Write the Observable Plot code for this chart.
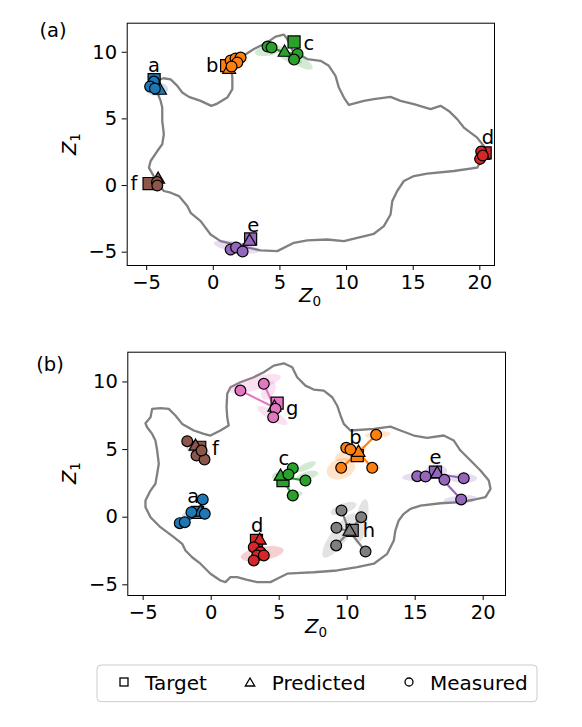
<!DOCTYPE html>
<html><head><meta charset="utf-8">
<script src="https://cdn.jsdelivr.net/npm/d3@7"></script>
<script src="https://cdn.jsdelivr.net/npm/@observablehq/plot@0.6"></script>
<style>
body{margin:0;background:#fff;font-family:"DejaVu Sans",sans-serif;}
#wrap{position:relative;width:582px;height:727px;overflow:hidden;}
.pn{position:absolute;left:0;}
</style></head><body><div id="wrap"></div>
<script>
// ---------- shared ----------
const allClusters = ["a","b","c","d","e","f","g","h"];
const clusterColors = ["#1f77b4","#ff7f0e","#2ca02c","#d62728","#9467bd","#8c564b","#e377c2","#7f7f7f"];
const xTicks = [-5,0,5,10,15,20];
const yTicks = [-5,0,5,10];
const legendLabels = ["Target","Predicted","Measured"];

// ---------- panel (a) ----------
const bndAx = [-4.33,-3.73,-3.20,-2.70,-2.33,-1.83,-0.95,-0.15,0.30,1.05,1.43,1.43,1.37,2.05,3.05,4.05,4.67,5.30,5.55,5.95,7.05,8.05,8.67,9.17,9.42,9.80,10.17,11.30,12.05,13.30,14.05,15.05,16.30,17.05,17.67,18.30,18.80,19.80,20.30,20.35,19.80,18.05,16.05,15.05,14.30,13.80,13.43,13.30,12.80,12.05,10.80,9.80,8.55,7.05,6.05,4.80,3.55,2.42,0.55,-0.20,-0.95,-1.70,-1.95,-2.58,-3.20,-3.71,-4.10,-4.83,-4.70,-4.20,-3.83,-3.71,-3.83,-3.83,-3.95,-4.20];
const bndAy = [7.86,8.05,7.97,7.48,6.98,6.65,6.35,5.98,6.15,6.60,7.23,8.11,8.61,9.61,10.24,10.74,11.17,11.32,10.99,10.11,9.49,9.36,8.98,8.23,7.35,6.60,6.05,6.35,6.48,6.65,6.35,6.11,5.73,5.98,5.60,4.98,4.35,3.59,2.97,2.37,1.34,1.09,0.89,0.71,0.34,-0.41,-1.17,-2.17,-3.05,-3.62,-3.92,-4.17,-4.05,-4.12,-4.30,-4.92,-4.87,-4.62,-4.17,-3.67,-2.67,-2.05,-1.54,-0.79,-0.54,-0.41,0.04,1.34,1.84,2.59,3.10,3.85,4.85,5.85,6.35,6.98];
const clustersA = ["a","b","c","d","e","f"];
const targetAx = [-4.44, 1.00, 6.06, 20.40, 2.80, -4.82];
const targetAy = [7.95, 9.00, 10.77, 2.45, -4.01, 0.15];
const predAx = [-4.00, 1.19, 5.35, 20.25, 2.72, -4.14];
const predAy = [7.13, 8.70, 9.98, 2.25, -4.20, 0.45];
const measAc = ["a","a","a","b","b","b","b","b","c","c","c","c","d","d","d","e","e","e","f","f"];
const measAx = [-4.46,-4.74,-4.38, 1.30,1.67,2.05,1.80,1.37, 4.07,4.37,6.32,6.06, 20.10,20.02,20.22, 1.30,1.71,2.20, -4.22,-4.20];
const measAy = [7.80,7.43,7.28, 9.38,9.53,9.60,9.23,8.93, 10.43,10.35,9.87,9.45, 2.55,2.00,2.25, -4.80,-4.65,-4.95, 0.26,0.00];
const labelAx = [-4.46,-0.08,7.17,20.60,3.00,-5.96];
const labelAy = [9.00,9.00,10.63,3.58,-3.00,0.13];
const ellAc  = ["a","b","c","c","c","d","e","f"];
const ellAcx = [-4.25,1.52,4.15,6.40,5.80,20.10,1.75,-4.30];
const ellAcy = [7.24,9.11,10.13,9.38,9.53,2.20,-4.61,0.20];
const ellArx = [0.86,1.10,1.05,1.20,0.90,0.50,1.75,0.50];
const ellAry = [0.50,0.50,0.38,0.38,0.30,0.35,0.40,0.40];
const ellAang = [0,30,10,-30,-20,60,-10,0];

// ---------- panel (b) ----------
const bndBx = [1.18,1.42,2.15,3.13,3.87,4.60,5.34,5.96,6.32,6.93,7.54,8.28,8.90,9.26,9.51,9.75,10.24,11.96,13.18,13.92,14.90,15.88,17.10,17.84,18.33,19.07,19.80,20.41,20.54,20.17,19.31,18.33,16.86,15.39,14.65,14.16,13.79,13.54,13.43,12.94,11.96,10.74,9.26,7.54,6.57,5.59,4.85,4.36,3.38,2.65,1.91,1.42,1.05,0.68,-0.05,-0.79,-1.40,-1.89,-2.13,-2.75,-3.73,-4.46,-4.83,-4.83,-4.46,-4.10,-3.97,-3.85,-3.97,-4.10,-4.34,-4.71,-4.83,-4.46,-4.34,-3.73,-3.12,-2.63,-2.13,-1.28,-0.54,-0.05,0.68,1.29,1.18,1.13];
const bndBy = [9.12,9.61,9.98,10.35,10.72,11.21,11.38,11.09,10.35,9.73,9.44,9.36,8.87,8.26,7.52,6.90,6.41,6.53,6.70,6.41,6.04,5.87,6.04,5.67,4.93,4.19,3.45,2.71,2.10,1.48,1.29,1.11,1.03,0.86,0.62,0.25,-0.24,-0.99,-1.72,-2.71,-3.44,-3.70,-3.94,-4.07,-4.12,-4.18,-4.55,-4.80,-4.80,-4.63,-4.43,-4.43,-4.80,-4.68,-4.18,-3.44,-2.96,-2.46,-1.97,-1.48,-0.74,0.00,0.74,1.23,1.97,2.47,3.21,3.95,4.93,5.67,6.16,6.65,6.95,7.39,8.01,8.06,8.01,7.52,6.90,6.41,6.16,6.04,6.41,6.78,7.39,8.13];
const clustersB = ["a","b","c","d","e","f","g","h"];
const targetBx = [-1.01, 10.74, 5.28, 3.33, 16.49, -0.84, 4.85, 10.37];
const targetBy = [0.35, 4.56, 2.71, -1.72, 3.33, 5.17, 8.43, -0.98];
const predBx = [-0.79, 10.83, 5.10, 3.57, 16.62, -1.15, 4.65, 10.17];
const predBy = [0.35, 4.78, 3.01, -1.72, 3.21, 5.23, 8.11, -1.06];
const measBc = ["a","a","a","a","a","b","b","b","b","b","c","c","c","c","d","d","d","d","d","e","e","e","e","e","f","f","f","f","g","g","g","g","h","h","h","h","h"];
const measBx = [-0.62,-0.47,-1.45,-2.31,-1.94, 9.93,12.13,9.56,11.84,10.24, 6.00,6.93,6.00,5.68, 3.13,3.63,3.38,3.87,3.13, 15.15,15.76,17.15,18.57,18.38, -1.76,-1.08,-0.49,-0.71, 2.15,3.87,4.73,4.56, 9.58,11.03,9.21,9.19,11.35];
const measBy = [1.31,0.25,0.37,-0.44,-0.37, 5.13,6.09,3.65,3.65,5.00, 3.62,2.71,1.60,3.16, -2.22,-2.59,-2.83,-2.83,-3.20, 3.03,3.01,2.76,2.88,1.31, 5.62,4.56,4.26,4.93, 9.36,9.86,8.01,7.39, 0.50,0.00,-0.78,-2.09,-2.54];
const labelBx = [-1.32,10.61,5.34,3.38,16.49,0.32,5.96,11.59];
const labelBy = [1.49,5.91,4.32,-0.61,4.43,5.06,8.01,-0.98];
const ellBc  = ["g","g","g","f","c","c","c","c","a","d","d","b","b","b","b","e","e","e","e","h","h","h"];
const ellBcx = [3.18,4.50,4.21,-1.00,7.00,7.08,6.12,5.17,-1.20,3.75,3.40,9.54,10.24,12.23,11.94,15.39,18.55,18.33,16.54,9.43,11.05,9.73];
const ellBcy = [9.88,7.52,9.36,5.00,3.74,3.08,1.68,3.00,0.40,-2.70,-1.90,3.58,4.70,6.10,3.67,3.00,2.88,1.31,3.40,-1.35,-0.30,0.64];
const ellBrx = [2.00,1.25,0.75,1.00,0.75,0.80,0.60,0.70,1.00,1.60,0.50,1.07,1.20,0.95,0.50,1.35,1.00,1.25,0.80,1.98,1.66,1.00];
const ellBry = [0.50,0.37,0.45,0.50,0.25,0.30,0.25,0.40,0.30,0.50,0.40,0.75,0.45,0.25,0.25,0.33,0.35,0.30,0.50,0.60,0.44,0.37];
const ellBang = [15,-30,60,-30,25,15,10,0,20,10,0,20,20,5,0,3,0,5,0,54,80,20];

function makePanel(o){
  const bnd = o.bx.map((x,i)=>({x, y:o.by[i]}));
  const tg = o.cl.map((c,i)=>({c, x:o.tx[i], y:o.ty[i]}));
  const pr = o.cl.map((c,i)=>({c, x:o.px[i], y:o.py[i]}));
  const ms = o.mc.map((c,i)=>({c, x:o.mx[i], y:o.my[i]}));
  const links = ms.map(m => { const p = pr.find(q=>q.c===m.c); return {c:m.c, x1:p.x, y1:p.y, x2:m.x, y2:m.y}; });
  const ell = [];
  o.ec.forEach((c,k)=>{
    const A = o.ea[k]*Math.PI/180;
    for(let j=0;j<60;j++){
      const t = j/60*2*Math.PI;
      ell.push({id:k, c,
        x:o.ecx[k] + o.erx[k]*Math.cos(t)*Math.cos(A) - o.ery[k]*Math.sin(t)*Math.sin(A),
        y:o.ecy[k] + o.erx[k]*Math.cos(t)*Math.sin(A) + o.ery[k]*Math.sin(t)*Math.cos(A)});
    }
  });
  const labels = o.cl.map((c,i)=>({c, x:o.lx[i], y:o.ly[i]}));
  return Plot.plot({
    width:582, height:330,
    marginLeft:o.ml, marginRight:o.mr, marginTop:o.mt, marginBottom:o.mb,
    x:{domain:o.xd, ticks:xTicks, tickSize:5, tickPadding:5, label:null},
    y:{domain:o.yd, ticks:yTicks, tickSize:5, tickPadding:5, label:null},
    color:{domain:allClusters, range:clusterColors},
    style:{fontFamily:"DejaVu Sans, sans-serif", fontSize:"19.5px", color:"black", background:"white", overflow:"visible"},
    marks:[
      Plot.line(bnd, {x:"x", y:"y", stroke:"#808080", strokeWidth:2.3, curve:"linear-closed"}),
      Plot.line(ell, {x:"x", y:"y", z:"id", fill:"c", fillOpacity:0.22, stroke:"none", curve:"linear-closed"}),
      Plot.link(links, {x1:"x1", y1:"y1", x2:"x2", y2:"y2", stroke:"c", strokeWidth:2.2}),
      Plot.dot(tg, {x:"x", y:"y", symbol:"square", r:6.8, fill:"c", stroke:"black", strokeWidth:1.2}),
      Plot.dot(pr, {x:"x", y:"y", symbol:"triangle", r:4.8, fill:"c", stroke:"black", strokeWidth:1.2}),
      Plot.dot(ms, {x:"x", y:"y", symbol:"circle", r:5.4, fill:"c", stroke:"black", strokeWidth:1.2}),
      Plot.text(labels, {x:"x", y:"y", text:"c", fontSize:19.5, fill:"black"}),
      Plot.frame({stroke:"black", strokeWidth:1})
    ]
  });
}

function decorate(svg, tag, tagX, tagY, xLabX, xLabY, yLabX, yLabY){
  const s = d3.select(svg);
  const g = s.append("g").attr("font-family","DejaVu Sans, sans-serif").attr("fill","black");
  g.append("text").attr("x",tagX).attr("y",tagY).attr("font-size",19.5).text(tag);
  const xl = g.append("text").attr("x",xLabX).attr("y",xLabY).attr("text-anchor","middle").attr("font-size",19.5);
  xl.append("tspan").attr("font-style","italic").text("Z");
  xl.append("tspan").attr("font-size",13.5).attr("dy",4).text("0");
  const yl = g.append("text").attr("transform",`translate(${yLabX},${yLabY}) rotate(-90)`).attr("text-anchor","middle").attr("font-size",19.5);
  yl.append("tspan").attr("font-style","italic").text("Z");
  yl.append("tspan").attr("font-size",13.5).attr("dy",4).text("1");
}

const wrap = document.getElementById("wrap");

const svgA = makePanel({
  bx:bndAx, by:bndAy, cl:clustersA, tx:targetAx, ty:targetAy, px:predAx, py:predAy,
  mc:measAc, mx:measAx, my:measAy, lx:labelAx, ly:labelAy,
  ec:ellAc, ecx:ellAcx, ecy:ellAcy, erx:ellArx, ery:ellAry, ea:ellAang,
  ml:126.7, mr:88, mt:22.7, mb:65, xd:[-6.46,21.1], yd:[-6.0,12.18]
});
decorate(svgA, "(a)", 53, 37, 310, 302, 76, 144);
const dA = document.createElement("div"); dA.className="pn"; dA.style.top="0px"; dA.appendChild(svgA); wrap.appendChild(dA);

const svgB = makePanel({
  bx:bndBx, by:bndBy, cl:clustersB, tx:targetBx, ty:targetBy, px:predBx, py:predBy,
  mc:measBc, mx:measBx, my:measBy, lx:labelBx, ly:labelBy,
  ec:ellBc, ecx:ellBcx, ecy:ellBcy, erx:ellBrx, ery:ellBry, ea:ellBang,
  ml:127.3, mr:77, mt:21.7, mb:65, xd:[-6.13,21.64], yd:[-5.79,12.2]
});
decorate(svgB, "(b)", 50, 41, 316, 303, 76, 143);
const dB = document.createElement("div"); dB.className="pn"; dB.style.top="330px"; dB.appendChild(svgB); wrap.appendChild(dB);

// ---------- legend ----------
const leg = d3.create("svg").attr("width",582).attr("height",60)
  .attr("style","position:absolute;left:0;top:655px;font-family:'DejaVu Sans',sans-serif");
leg.append("rect").attr("x",97).attr("y",10).attr("width",440).attr("height",36.7).attr("rx",4)
  .attr("fill","white").attr("stroke","#cccccc").attr("stroke-width",1);
leg.append("rect").attr("x",120).attr("y",23).attr("width",8).attr("height",8).attr("fill","none").attr("stroke","black").attr("stroke-width",1.3);
leg.append("polygon").attr("points","250,23 245.3,31 254.7,31").attr("fill","none").attr("stroke","black").attr("stroke-width",1.3);
leg.append("circle").attr("cx",409).attr("cy",27).attr("r",4).attr("fill","none").attr("stroke","black").attr("stroke-width",1.3);
const legX = [145, 271.7, 430];
legendLabels.forEach((t,i)=>{
  leg.append("text").attr("x",legX[i]).attr("y",34.5).attr("font-size",20).attr("fill","black").text(t);
});
wrap.appendChild(leg.node());
</script>
</body></html>
